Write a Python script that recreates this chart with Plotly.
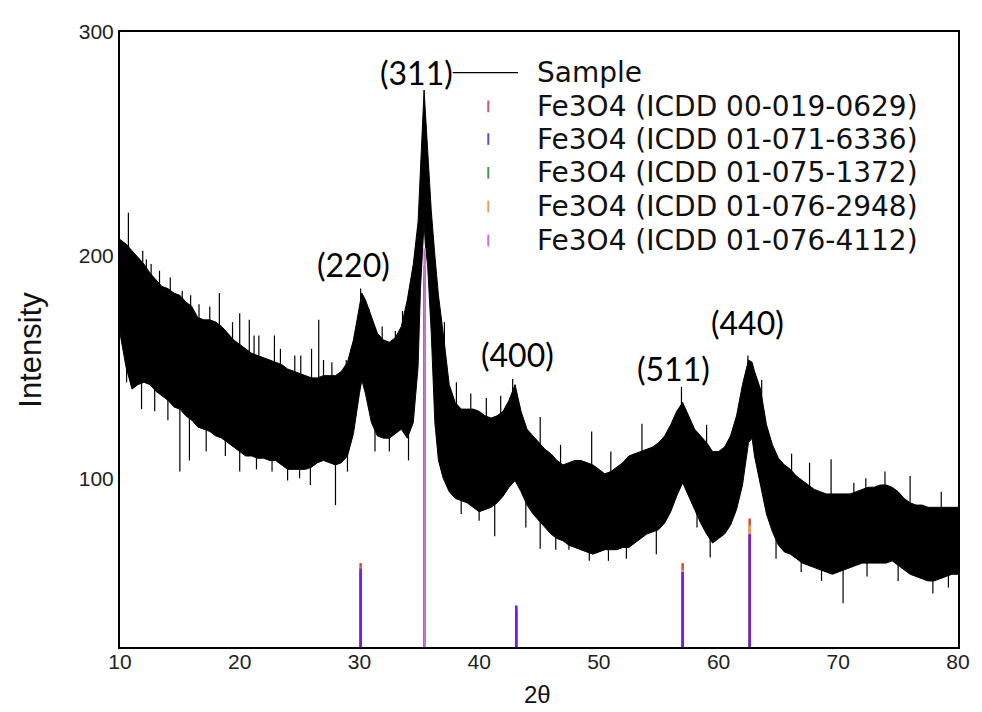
import numpy as np
import plotly.graph_objects as go

# ---------------- data ----------------
two_theta = [10.0, 10.5, 11.0, 11.5, 12.0, 12.5, 13.0, 13.5, 14.0, 14.5, 15.0, 15.5, 16.0, 16.5,
             17.0, 17.5, 18.0, 18.5, 19.0, 19.5, 20.0, 20.5, 21.0, 21.5, 22.0, 22.5, 23.0, 23.5,
             24.0, 24.5, 25.0, 25.5, 26.0, 26.5, 27.0, 27.5, 28.0, 28.5, 29.0, 29.5, 30.0, 30.2,
             30.5, 31.0, 31.5, 32.0, 32.5, 33.0, 33.5, 34.0, 34.5, 34.9, 35.1, 35.3, 35.4, 35.5,
             35.7, 36.0, 36.3, 36.6, 37.0, 37.5, 38.0, 38.5, 39.0, 39.5, 40.0, 40.5, 41.0, 41.5,
             42.0, 42.5, 43.0, 43.5, 44.0, 44.5, 45.0, 45.5, 46.0, 46.5, 47.0, 47.5, 48.0, 48.5,
             49.0, 49.5, 50.0, 50.5, 51.0, 51.5, 52.0, 52.5, 53.0, 53.5, 54.0, 54.5, 55.0, 55.5,
             56.0, 56.5, 57.0, 57.5, 58.0, 58.5, 59.0, 59.5, 60.0, 60.5, 61.0, 61.5, 62.0, 62.5,
             62.8, 63.0, 63.5, 64.0, 64.5, 65.0, 65.5, 66.0, 66.5, 67.0, 67.5, 68.0, 68.5, 69.0,
             69.5, 70.0, 70.5, 71.0, 71.5, 72.0, 72.5, 73.0, 73.5, 74.0, 74.5, 75.0, 75.5, 76.0,
             76.5, 77.0, 77.5, 78.0, 78.5, 79.0, 79.5, 80.0]

sample_upper = [207, 205, 202, 199, 196, 192, 189, 186, 185, 183, 182, 179, 177, 172,
                171, 171, 170, 168, 165, 162, 160, 158, 156, 155, 154, 153, 152, 151,
                149, 148, 147, 146, 145, 145, 146, 146, 146, 148, 152, 162, 178, 183,
                180, 172, 165, 162, 161, 163, 168, 180, 196, 215, 240, 265, 274, 265,
                245, 220, 200, 182, 165, 142, 134, 131, 131, 131, 130, 128, 127, 128,
                130, 135, 142, 130, 122, 119, 116, 113, 111, 108, 106, 107, 108, 108,
                107, 106, 104, 102, 103, 105, 107, 110, 111, 112, 113, 114, 116, 119,
                124, 130, 134, 128, 122, 119, 116, 112, 112, 114, 119, 128, 142, 153,
                152, 148, 140, 124, 115, 109, 106, 104, 101, 99, 97, 95, 94, 93,
                93, 93, 93, 93, 94, 95, 96, 96, 97, 97, 96, 94, 91, 89,
                88, 88, 87, 87, 87, 87, 87, 87]

sample_lower = [165, 150, 140, 142, 143, 142, 139, 137, 135, 132, 131, 128, 126, 123,
                122, 121, 119, 118, 116, 114, 112, 110, 110, 109, 109, 108, 108, 106,
                104, 104, 104, 104, 105, 107, 108, 107, 106, 107, 110, 120, 138, 144,
                138, 125, 119, 118, 118, 120, 122, 118, 125, 150, 185, 205, 215, 205,
                195, 165, 125, 108, 100, 94, 91, 90, 89, 87, 85, 86, 87, 89,
                92, 96, 99, 94, 88, 84, 81, 78, 75, 73, 72, 70, 69, 68,
                67, 66, 67, 68, 68, 68, 69, 69, 71, 73, 75, 76, 77, 80,
                85, 92, 98, 92, 86, 80, 75, 71, 73, 75, 79, 86, 97, 116,
                118, 110, 97, 84, 76, 70, 67, 66, 64, 62, 61, 60, 59, 58,
                57, 58, 59, 60, 61, 62, 62, 62, 62, 62, 63, 61, 59, 57,
                56, 55, 54, 54, 55, 56, 57, 57]

# isolated noise spikes reaching beyond the dense band
spike_up_x = [10.7, 11.9, 12.2, 12.6, 13.3, 14.2, 15.2, 15.9, 16.6, 17.5, 18.3, 19.4, 20.0,
              20.8, 21.2, 21.6, 22.9, 23.4, 24.6, 25.1, 26.0, 26.6, 27.0, 27.7, 28.9, 29.3,
              30.1, 30.8, 31.9, 33.0, 33.6, 37.1, 38.1, 39.3, 40.6, 41.8, 42.8, 45.1, 46.8,
              49.4, 51.0, 53.6, 56.9, 59.0, 62.45, 63.6, 66.1, 67.6, 69.4, 71.3, 72.3, 73.9,
              76.0, 78.6]
spike_up_y = [219, 202, 198, 196, 193, 190, 184, 182, 178, 177, 183, 170, 174,
              171, 164, 164, 164, 158, 155, 155, 158, 171, 153, 152, 153, 158,
              185, 176, 168, 166, 175, 170, 143, 138, 136, 137, 144.5, 127.5, 115,
              121, 112, 124.5, 141, 124, 155, 144, 111, 107, 108.5, 98, 100, 103,
              101, 94]
spike_dn_x = [10.55, 11.8, 12.9, 14.0, 15.0, 15.8, 17.2, 18.8, 20.0, 21.4, 22.7, 24.0,
              25.0, 25.9, 28.0, 29.0, 31.3, 32.5, 34.1, 38.5, 40.0, 41.3, 43.9, 45.1, 46.4,
              47.5, 49.2, 50.8, 52.3, 54.8, 58.2, 59.3, 64.8, 66.9, 68.6, 70.4, 72.4, 75.0,
              77.9, 79.2]
spike_dn_y = [143, 131, 130, 126, 103, 108, 112, 110, 103, 104, 103, 99,
              100, 97, 88, 103, 112, 112, 108, 84, 81, 74, 78, 68.4, 68,
              68, 63, 63, 64, 66, 78, 64.5, 64, 58, 54, 44, 56, 54,
              48.4, 51]

# reference patterns (stick positions and heights)
ref_names = ["Fe3O4 (ICDD 00-019-0629)", "Fe3O4 (ICDD 01-071-6336)", "Fe3O4 (ICDD 01-075-1372)",
             "Fe3O4 (ICDD 01-076-2948)", "Fe3O4 (ICDD 01-076-4112)"]
ref_00_019_0629_x = [30.1, 35.45, 43.1, 57.0, 62.6]
ref_00_019_0629_h = [62, 190, 40, 62, 82]
ref_01_071_6336_x = [30.1, 35.45, 43.1, 57.0, 62.6]
ref_01_071_6336_h = [59.6, 195, 43, 58, 75]
ref_01_075_1372_x = [30.1, 35.45, 43.1, 57.0, 62.6]
ref_01_075_1372_h = [58, 190, 42, 56, 73]
ref_01_076_2948_x = [30.1, 35.45, 43.1, 57.0, 62.6]
ref_01_076_2948_h = [60, 190, 42, 59, 79]
ref_01_076_4112_x = [35.45]
ref_01_076_4112_h = [203]

peak_labels = ["(311)", "(220)", "(400)", "(511)", "(440)"]
peak_label_x = [34.75, 29.5, 43.2, 56.2, 62.4]
peak_label_y = [281.8, 195.6, 155.6, 149.3, 170.0]

x_ticks = [10, 20, 30, 40, 50, 60, 70, 80]
y_ticks = [100, 200, 300]

# ---------------- styles ----------------
legend_colors = ["#d05a68", "#5a4fc6", "#3f9a5a", "#e0a458", "#d46cd8"]
stick_colors = ["#c8503c", "#7a16f2", "#3f9a5a", "#e0a458", "#d070e0"]
FONT = "Liberation Sans, Arial, sans-serif"

fig = go.Figure()

# sample: dense noisy band
fig.add_trace(go.Scatter(
    x=two_theta + two_theta[::-1],
    y=sample_upper + sample_lower[::-1],
    fill="toself", fillcolor="black", mode="lines",
    line=dict(color="black", width=1), hoverinfo="skip", showlegend=False))

mid = (np.array(sample_upper) + np.array(sample_lower)) / 2.0
sx, sy = [], []
for xv, yv in zip(spike_up_x, spike_up_y):
    sx += [xv, xv, None]
    sy += [yv, float(np.interp(xv, two_theta, mid)), None]
for xv, yv in zip(spike_dn_x, spike_dn_y):
    sx += [xv, xv, None]
    sy += [yv, float(np.interp(xv, two_theta, mid)), None]
fig.add_trace(go.Scatter(x=sx, y=sy, mode="lines", line=dict(color="black", width=1.2),
                         hoverinfo="skip", showlegend=False))

# reference sticks (drawn in an order that reproduces the visible overlap)
ref_sets = [
    (ref_00_019_0629_x, ref_00_019_0629_h, stick_colors[0]),
    (ref_01_076_2948_x, ref_01_076_2948_h, stick_colors[3]),
    (ref_01_075_1372_x, ref_01_075_1372_h, stick_colors[2]),
    (ref_01_071_6336_x, ref_01_071_6336_h, stick_colors[1]),
    (ref_01_076_4112_x, ref_01_076_4112_h, stick_colors[4]),
]
for xs, hs, col in ref_sets:
    lx, ly = [], []
    for xv, hv in zip(xs, hs):
        lx += [xv, xv, None]
        ly += [0, hv, None]
    fig.add_trace(go.Scatter(x=lx, y=ly, mode="lines", line=dict(color=col, width=2.5),
                             hoverinfo="skip", showlegend=False))

# peak labels
for t, xv, yv in zip(peak_labels, peak_label_x, peak_label_y):
    fig.add_annotation(x=xv, y=yv, xref="x", yref="y", text=t, showarrow=False,
                       font=dict(family="Lato, sans-serif", size=32, color="black"))

# custom legend (paper coordinates)
leg_rows_y = [0.934, 0.879, 0.826, 0.771, 0.716, 0.661]
leg_text_x = 0.4947
LEGFONT = dict(family="DejaVu Sans, sans-serif", size=28, color="#111")
fig.add_shape(type="line", xref="paper", yref="paper", x0=0.397, x1=0.475,
              y0=leg_rows_y[0], y1=leg_rows_y[0], line=dict(color="black", width=1.3))
fig.add_annotation(x=leg_text_x, y=leg_rows_y[0], xref="paper", yref="paper", text="Sample",
                   showarrow=False, xanchor="left", yanchor="middle", font=LEGFONT)
for i, name in enumerate(ref_names):
    yc = leg_rows_y[i + 1]
    fig.add_shape(type="line", xref="paper", yref="paper", x0=0.4395, x1=0.4395,
                  y0=yc - 0.0095, y1=yc + 0.0095, line=dict(color=legend_colors[i], width=2))
    fig.add_annotation(x=leg_text_x, y=yc, xref="paper", yref="paper", text=name,
                       showarrow=False, xanchor="left", yanchor="middle", font=LEGFONT)

# axis titles
fig.add_annotation(x=0.4985, y=-0.0516, xref="paper", yref="paper", text="2θ", showarrow=False,
                   xanchor="center", yanchor="top",
                   font=dict(family=FONT, size=24, color="#111"))
fig.add_annotation(x=-0.107, y=0.484, xref="paper", yref="paper", text="Intensity",
                   showarrow=False, textangle=-90, xanchor="center", yanchor="middle",
                   font=dict(family=FONT, size=31, color="#111"))

axis_common = dict(showgrid=False, zeroline=False, showline=True, linecolor="black",
                   linewidth=2, mirror=True, ticks="",
                   tickfont=dict(family=FONT, size=21, color="#222"))
fig.update_xaxes(range=[10, 80], tickvals=x_ticks, ticktext=[str(v) for v in x_ticks],
                 ticklabelstandoff=-5, **axis_common)
fig.update_yaxes(range=[24.4, 300], tickvals=y_ticks, ticktext=[str(v) for v in y_ticks],
                 **axis_common)

# the page body adds an 8 px offset, so the figure is sized to fit the 982x712 window
fig.update_layout(width=974, height=704, margin=dict(l=112, r=19, t=19, b=65),
                  plot_bgcolor="white", paper_bgcolor="white", showlegend=False)

fig.write_html("out.html")
